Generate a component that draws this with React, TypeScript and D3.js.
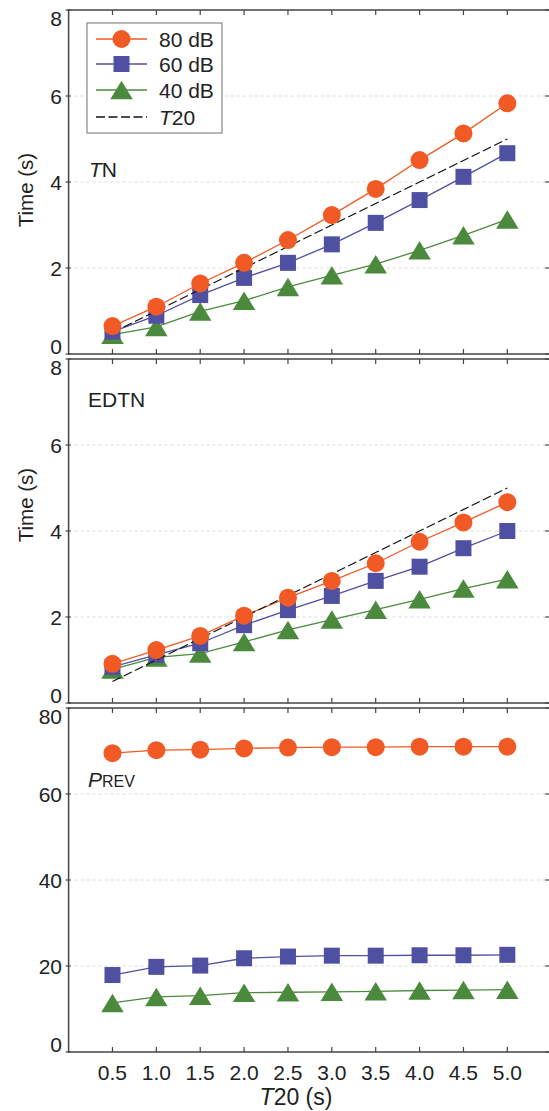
import React from "react";
import * as d3 from "d3";

const X_VALUES = [0.5, 1.0, 1.5, 2.0, 2.5, 3.0, 3.5, 4.0, 4.5, 5.0];
const X_TICK_LABELS = ["0.5", "1.0", "1.5", "2.0", "2.5", "3.0", "3.5", "4.0", "4.5", "5.0"];

const TN_80 = [0.65, 1.1, 1.64, 2.12, 2.65, 3.23, 3.84, 4.51, 5.13, 5.83];
const TN_60 = [0.52, 0.89, 1.37, 1.77, 2.12, 2.55, 3.05, 3.58, 4.12, 4.67];
const TN_40 = [0.45, 0.63, 0.99, 1.24, 1.56, 1.83, 2.09, 2.41, 2.76, 3.13];

const EDT_80 = [0.91, 1.23, 1.56, 2.03, 2.45, 2.84, 3.25, 3.75, 4.2, 4.67];
const EDT_60 = [0.84, 1.12, 1.39, 1.81, 2.16, 2.49, 2.84, 3.17, 3.6, 4.0];
const EDT_40 = [0.78, 1.06, 1.15, 1.42, 1.7, 1.94, 2.17, 2.41, 2.66, 2.88];

const PREV_80 = [69.5, 70.2, 70.3, 70.6, 70.8, 70.9, 70.9, 71.0, 71.0, 71.0];
const PREV_60 = [17.9, 19.8, 20.1, 21.8, 22.2, 22.4, 22.4, 22.5, 22.5, 22.6];
const PREV_40 = [11.4, 12.8, 13.1, 13.8, 13.9, 14.0, 14.1, 14.3, 14.4, 14.5];

const T20_X = [0.5, 5.0];
const T20_Y = [0.5, 5.0];

const TIME_TICKS = [0, 2, 4, 6, 8];
const PREV_TICKS = [0, 20, 40, 60, 80];

const SERIES_NAMES = ["80 dB", "60 dB", "40 dB"];
const COLORS = { c80: "#f15a24", c60: "#5050a2", c40: "#4b8a3c" };

const FONT = "'Liberation Sans', Arial, Helvetica, sans-serif";
const FRAME = "#444";

const x = d3.scaleLinear().domain([0, 5.5]).range([68.6, 551.2]);

type Panel = {
  top: number;
  bottom: number;
  domain: [number, number];
  ticks: number[];
  series: { values: number[]; color: string; shape: string }[];
  ref: boolean;
  label: React.ReactNode;
  ytitle: string | null;
  ytitleY: number;
};

function Marker({ shape, cx, cy, color }: { shape: string; cx: number; cy: number; color: string }) {
  if (shape === "circle") return <circle cx={cx} cy={cy} r={9} fill={color} />;
  if (shape === "square") return <rect x={cx - 8} y={cy - 8} width={16} height={16} fill={color} />;
  const w = 22.5, h = 18.5;
  return (
    <path
      d={`M${cx},${cy - h / 2}L${cx + w / 2},${cy + h / 2}L${cx - w / 2},${cy + h / 2}Z`}
      fill={color}
    />
  );
}

function PanelView({ p }: { p: Panel }) {
  const y = d3.scaleLinear().domain(p.domain).range([p.bottom, p.top]);
  const line = d3
    .line<number>()
    .x((_, i) => x(X_VALUES[i]))
    .y((d) => y(d));
  const refLine = d3
    .line<number>()
    .x((_, i) => x(T20_X[i]))
    .y((d) => y(d));
  const xl = x.range()[0];
  const xr = x.range()[1];
  return (
    <g>
      {p.ticks.slice(1, -1).map((t) => (
        <line key={"g" + t} x1={xl} x2={xr} y1={y(t)} y2={y(t)} stroke="#d4d4d4" strokeWidth={0.8} strokeDasharray="3,3" />
      ))}
      {p.series.map((s, si) => (
        <g key={si}>
          <path d={line(s.values) || ""} fill="none" stroke={s.color} strokeWidth={1.3} />
          {si === p.series.length - 1 && p.ref ? (
            <path d={refLine(T20_Y) || ""} fill="none" stroke="#111" strokeWidth={1.3} strokeDasharray="9,3.5" />
          ) : null}
          {s.values.map((v, i) => (
            <Marker key={i} shape={s.shape} cx={x(X_VALUES[i])} cy={y(v)} color={s.color} />
          ))}
        </g>
      ))}
      <rect x={xl} y={p.top} width={xr - xl} height={p.bottom - p.top} fill="none" stroke={FRAME} strokeWidth={1.5} />
      {X_VALUES.map((v) => (
        <g key={"xt" + v}>
          <line x1={x(v)} x2={x(v)} y1={p.top} y2={p.top + 5} stroke={FRAME} strokeWidth={1.2} />
          <line x1={x(v)} x2={x(v)} y1={p.bottom} y2={p.bottom - 5} stroke={FRAME} strokeWidth={1.2} />
        </g>
      ))}
      {p.ticks.map((t, i) => {
        let ty = y(t) + 7.5;
        if (i === 0) ty = y(t) - 0.5;
        if (i === p.ticks.length - 1) ty = y(t) + 15.5;
        return (
          <g key={"yt" + t}>
            <line x1={xl - 3} x2={xl + 2} y1={y(t)} y2={y(t)} stroke={FRAME} strokeWidth={1.2} />
            <line x1={xr} x2={xr - 6} y1={y(t)} y2={y(t)} stroke={FRAME} strokeWidth={1.2} />
            <text x={62} y={ty} textAnchor="end" fontSize={21} fill="#222">
              {t}
            </text>
          </g>
        );
      })}
      {p.label}
      {p.ytitle ? (
        <text
          transform={`translate(33,${p.ytitleY}) rotate(-90)`}
          textAnchor="middle"
          fontSize={20.5}
          fill="#222"
        >
          {p.ytitle}
        </text>
      ) : null}
    </g>
  );
}

export default function App() {
  const panels: Panel[] = [
    {
      top: 10,
      bottom: 354,
      domain: [0, 8],
      ticks: TIME_TICKS,
      series: [
        { values: TN_40, color: COLORS.c40, shape: "triangle" },
        { values: TN_60, color: COLORS.c60, shape: "square" },
        { values: TN_80, color: COLORS.c80, shape: "circle" },
      ],
      ref: true,
      label: (
        <text x={89} y={177} fontSize={21} fill="#222">
          <tspan fontStyle="italic">T</tspan>N
        </text>
      ),
      ytitle: "Time (s)",
      ytitleY: 190,
    },
    {
      top: 359,
      bottom: 703,
      domain: [0, 8],
      ticks: TIME_TICKS,
      series: [
        { values: EDT_40, color: COLORS.c40, shape: "triangle" },
        { values: EDT_60, color: COLORS.c60, shape: "square" },
        { values: EDT_80, color: COLORS.c80, shape: "circle" },
      ],
      ref: true,
      label: (
        <text x={88} y={407} fontSize={21} fill="#222">
          EDTN
        </text>
      ),
      ytitle: "Time (s)",
      ytitleY: 505,
    },
    {
      top: 708,
      bottom: 1052,
      domain: [0, 80],
      ticks: PREV_TICKS,
      series: [
        { values: PREV_40, color: COLORS.c40, shape: "triangle" },
        { values: PREV_60, color: COLORS.c60, shape: "square" },
        { values: PREV_80, color: COLORS.c80, shape: "circle" },
      ],
      ref: false,
      label: (
        <text x={88} y={787} fill="#222">
          <tspan fontStyle="italic" fontSize={21}>P</tspan>
          <tspan fontSize={16}>REV</tspan>
        </text>
      ),
      ytitle: null,
      ytitleY: 0,
    },
  ];

  const legendRows = [
    { name: SERIES_NAMES[0], color: COLORS.c80, shape: "circle" },
    { name: SERIES_NAMES[1], color: COLORS.c60, shape: "square" },
    { name: SERIES_NAMES[2], color: COLORS.c40, shape: "triangle" },
  ];
  const rowY = [39, 64, 90, 117];

  return (
    <svg
      width={549}
      height={1111}
      style={{ position: "absolute", left: 0, top: 0, background: "#fff" }}
      fontFamily={FONT}
    >
      <rect x={0} y={0} width={549} height={1111} fill="#fff" />
      {panels.map((p, i) => (
        <PanelView key={i} p={p} />
      ))}
      <g>
        <rect x={87} y={23} width={135} height={110} fill="#fff" stroke="#888" strokeWidth={1.2} />
        {legendRows.map((r, i) => (
          <g key={i}>
            <line x1={96} x2={147} y1={rowY[i]} y2={rowY[i]} stroke={r.color} strokeWidth={1.3} />
            <Marker shape={r.shape} cx={121.5} cy={rowY[i]} color={r.color} />
            <text x={159} y={rowY[i] + 7.5} fontSize={21} fill="#222">
              {r.name}
            </text>
          </g>
        ))}
        <line x1={96} x2={147} y1={rowY[3]} y2={rowY[3]} stroke="#111" strokeWidth={1.3} strokeDasharray="9,3.5" />
        <text x={159} y={rowY[3] + 7.5} fontSize={21} fill="#222">
          <tspan fontStyle="italic">T</tspan>20
        </text>
      </g>
      {X_VALUES.map((v, i) => (
        <text key={"xl" + v} x={x(v)} y={1080} textAnchor="middle" fontSize={21} fill="#222">
          {X_TICK_LABELS[i]}
        </text>
      ))}
      <text x={296} y={1105} textAnchor="middle" fontSize={23} fill="#222">
        <tspan fontStyle="italic">T</tspan>20 (s)
      </text>
    </svg>
  );
}
